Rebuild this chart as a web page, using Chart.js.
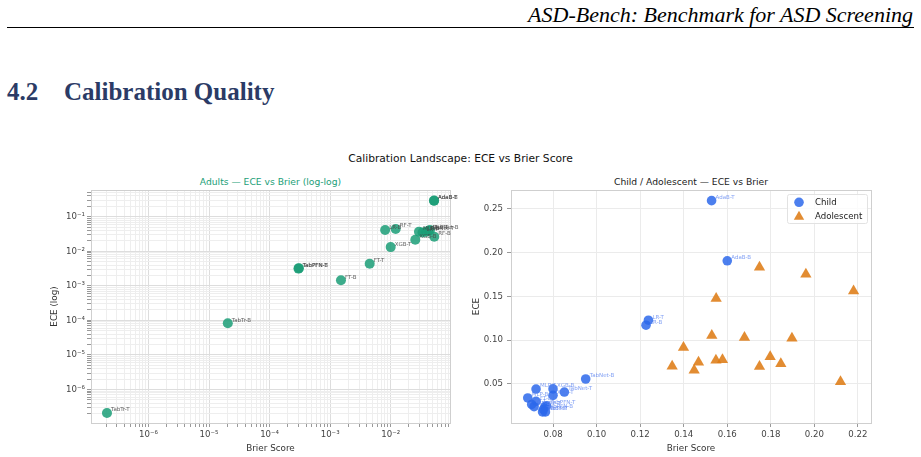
<!DOCTYPE html>
<html>
<head>
<meta charset="utf-8">
<script src="https://cdn.jsdelivr.net/npm/chart.js@4.4.1/dist/chart.umd.min.js"></script>
<style>
  body { margin: 0; width: 921px; height: 457px; background: #fff; position: relative; overflow: hidden; font-family: "DejaVu Sans", sans-serif; }
  #hdr { position: absolute; right: 8px; top: 2px; font: italic 22px "Liberation Serif", serif; white-space: nowrap; }
  #rule { position: absolute; left: 7px; width: 907px; top: 27px; border-top: 1.5px solid #000; }
  #sec { position: absolute; left: 7px; top: 78px; font: bold 25px "Liberation Serif", serif; color: #2b3b66; white-space: nowrap; }
  #sec span { display: inline-block; width: 57px; }
  #sup { position: absolute; left: 0; width: 921px; top: 152px; text-align: center; font-size: 10.7px; color: #111; }
  .sub { position: absolute; top: 176px; font-size: 9.2px; text-align: center; white-space: nowrap; }
  .wrap { position: absolute; top: 170px; height: 287px; }
</style>
</head>
<body>
<div id="hdr">ASD-Bench: Benchmark for ASD Screening</div>
<div id="rule"></div>
<div id="sec"><span>4.2</span>Calibration Quality</div>
<div id="sup">Calibration Landscape: ECE vs Brier Score</div>
<div class="sub" style="left:91px;width:359px;color:#1b9e77">Adults — ECE vs Brier (log-log)</div>
<div class="sub" style="left:511px;width:360px;color:#222">Child / Adolescent — ECE vs Brier</div>
<div class="wrap" style="left:0;width:460px"><canvas id="adults" width="460" height="287"></canvas></div>
<div class="wrap" style="left:460px;width:461px"><canvas id="kids" width="461" height="287"></canvas></div>
<script>
// Adults (log-log)
const adultNames = ["TabTr-T", "TabTr-B", "TabPFN-B", "TabPFN-T", "FT-B", "FT-T", "XGB-T", "LR-B", "RF-T",
  "XGB-B", "MLP-B", "LR-T", "TabNet-T", "MLP-T", "TabNet-B", "RF-B", "AdaB-B", "AdaB-T"];
const adultBrier = [2.06e-7, 2.04e-5, 3.0e-4, 3.05e-4, 1.51e-3, 4.5e-3, 0.0100, 0.0081, 0.0121,
  0.0255, 0.0293, 0.0335, 0.0383, 0.0420, 0.0446, 0.0525, 0.0519, 0.0522];
const adultEce = [2.09e-7, 8.3e-5, 3.15e-3, 3.25e-3, 1.46e-3, 4.35e-3, 0.0132, 0.0411, 0.0440,
  0.0216, 0.0367, 0.0350, 0.0367, 0.0395, 0.0410, 0.0263, 0.291, 0.293];

// Child
const childNames = ["AdaB-T", "AdaB-B", "LR-T", "LR-B", "TabNet-B", "TabNet-T", "MLP-T", "XGB-B", "XGB-T",
  "MLP-B", "FT-B", "FT-T", "RF-B", "RF-T", "TabPFN-T", "TabPFN-B", "TabTr-B", "TabTr-T"];
const childBrier = [0.1528, 0.1600, 0.1238, 0.1227, 0.0950, 0.0852, 0.0722, 0.0800, 0.0800,
  0.0684, 0.0722, 0.0702, 0.0713, 0.0763, 0.0770, 0.0756, 0.0752, 0.0765];
const childEce = [0.2595, 0.1908, 0.1229, 0.1172, 0.0557, 0.0408, 0.0442, 0.0444, 0.0370,
  0.0340, 0.0302, 0.0266, 0.0240, 0.0240, 0.0250, 0.0210, 0.0180, 0.0180];

// Adolescent
const adolBrier = [0.1347, 0.1399, 0.1448, 0.1468, 0.1529, 0.1549, 0.1548, 0.1578, 0.1679,
  0.1748, 0.1748, 0.1797, 0.1846, 0.1897, 0.1961, 0.2120, 0.2180];
const adolEce = [0.0703, 0.0916, 0.0657, 0.0749, 0.1054, 0.1478, 0.0771, 0.0778, 0.1031,
  0.1833, 0.0700, 0.0810, 0.0730, 0.1023, 0.1753, 0.0526, 0.1564];

// tick labels
const logExps = [-7, -6, -5, -4, -3, -2, -1];
const kidXTicks = [0.08, 0.10, 0.12, 0.14, 0.16, 0.18, 0.20, 0.22];
const kidYTicks = [0.05, 0.10, 0.15, 0.20, 0.25];

const pts = (xs, ys) => xs.map((x, i) => ({ x: x, y: ys[i] }));
const SUP = { "-": "⁻", "0": "⁰", "1": "¹", "2": "²", "3": "³", "4": "⁴", "5": "⁵", "6": "⁶", "7": "⁷", "8": "⁸", "9": "⁹" };
const isDecade = v => Math.abs(Math.log10(v) - Math.round(Math.log10(v))) < 1e-6;
const decadeLabel = v => isDecade(v) ? "10" + String(Math.round(Math.log10(v))).split("").map(c => SUP[c]).join("") : "";

function logTicks(scale) {
  const t = [];
  logExps.forEach(e => { for (let k = 1; k <= 9; k++) t.push({ value: k * Math.pow(10, e) }); });
  scale.ticks = t.filter(o => o.value >= scale.min && o.value <= scale.max);
}

const tickFont = { family: "DejaVu Sans", size: 8.6 };
const titleFont = { family: "DejaVu Sans", size: 8.8 };

// frame round the plot area
const frame = {
  id: "frame",
  beforeDatasetsDraw(chart) {
    const a = chart.chartArea, c = chart.ctx;
    c.save();
    c.strokeStyle = "#cfcfcf";
    c.lineWidth = 1;
    c.strokeRect(a.left + 0.5, a.top + 0.5, a.right - a.left, a.bottom - a.top);
    c.restore();
  }
};

// text next to each point
const pointNames = {
  id: "pointNames",
  afterDatasetsDraw(chart) {
    const c = chart.ctx;
    chart.data.datasets.forEach((ds, i) => {
      if (!ds.names) return;
      c.save();
      c.font = "5.5px DejaVu Sans";
      c.fillStyle = ds.nameColor;
      c.textBaseline = "middle";
      chart.getDatasetMeta(i).data.forEach((el, j) => c.fillText(ds.names[j], el.x + 4, el.y - 3));
      c.restore();
    });
  }
};

// legend box inside the right plot
const kidLegend = {
  id: "kidLegend",
  afterDraw(chart) {
    const a = chart.chartArea, c = chart.ctx;
    const x0 = a.right - 84, y0 = a.top + 4, w = 80, h = 29;
    c.save();
    c.fillStyle = "rgba(255,255,255,0.8)";
    c.strokeStyle = "#e2e2e2";
    c.lineWidth = 1;
    c.beginPath();
    c.roundRect(x0 + 0.5, y0 + 0.5, w, h, 2);
    c.fill();
    c.stroke();
    chart.data.datasets.forEach((ds, i) => {
      const cx = x0 + 12, cy = y0 + 8.3 + i * 14.4;
      c.fillStyle = ds.backgroundColor;
      c.beginPath();
      if (ds.pointStyle === "triangle") {
        const r = 6;
        c.moveTo(cx, cy - r);
        c.lineTo(cx + r * 0.866, cy + r * 0.5);
        c.lineTo(cx - r * 0.866, cy + r * 0.5);
        c.closePath();
      } else {
        c.arc(cx, cy, 4.8, 0, Math.PI * 2);
      }
      c.fill();
      c.fillStyle = "#222";
      c.font = "8.6px DejaVu Sans";
      c.textBaseline = "middle";
      c.fillText(ds.label, x0 + 28, cy);
    });
    c.restore();
  }
};

new Chart(document.getElementById("adults"), {
  type: "scatter",
  data: {
    datasets: [{
      label: "Adults",
      data: pts(adultBrier, adultEce),
      names: adultNames,
      nameColor: "rgba(70,70,70,0.85)",
      backgroundColor: "rgba(27,158,119,0.85)",
      borderWidth: 0,
      pointRadius: 5,
      pointHoverRadius: 5
    }]
  },
  options: {
    responsive: false,
    animation: false,
    layout: { padding: { top: 20, right: 10, left: 0, bottom: 0 } },
    plugins: { legend: { display: false }, tooltip: { enabled: false } },
    scales: {
      x: {
        type: "logarithmic",
        min: Math.pow(10, -6.95), max: Math.pow(10, -1.02),
        afterBuildTicks: logTicks,
        afterFit: s => { s.height = 34; },
        border: { display: false },
        grid: { color: ctx => isDecade(ctx.tick.value) ? "#dddddd" : "#eeeeee", tickLength: 4, tickColor: "#999" },
        ticks: { callback: decadeLabel, autoSkip: false, maxRotation: 0, padding: 3, color: "#444", font: tickFont },
        title: { display: true, text: "Brier Score", color: "#333", font: titleFont, padding: { top: 0, bottom: 3 } }
      },
      y: {
        type: "logarithmic",
        min: Math.pow(10, -6.97), max: Math.pow(10, -0.226),
        afterBuildTicks: logTicks,
        afterFit: s => { s.width = 91; },
        border: { display: false },
        grid: { color: ctx => isDecade(ctx.tick.value) ? "#dddddd" : "#eeeeee", tickLength: 4, tickColor: "#999" },
        ticks: { callback: decadeLabel, autoSkip: false, padding: 2, color: "#444", font: tickFont },
        title: { display: true, text: "ECE (log)", color: "#333", font: titleFont, padding: { top: 49, bottom: 0 } }
      }
    }
  },
  plugins: [frame, pointNames]
});

new Chart(document.getElementById("kids"), {
  type: "scatter",
  data: {
    datasets: [{
      label: "Child",
      data: pts(childBrier, childEce),
      names: childNames,
      nameColor: "rgba(90,130,240,0.75)",
      backgroundColor: "rgba(45,104,235,0.85)",
      borderWidth: 0,
      pointStyle: "circle",
      pointRadius: 4.8,
      pointHoverRadius: 4.8
    }, {
      label: "Adolescent",
      data: pts(adolBrier, adolEce),
      backgroundColor: "rgba(222,124,22,0.88)",
      borderWidth: 0,
      pointStyle: "triangle",
      pointRadius: 6.5,
      pointHoverRadius: 6.5
    }]
  },
  options: {
    responsive: false,
    animation: false,
    layout: { padding: { top: 20, right: 50, left: 0, bottom: 0 } },
    plugins: { legend: { display: false }, tooltip: { enabled: false } },
    scales: {
      x: {
        type: "linear",
        min: 0.0607, max: 0.226,
        afterBuildTicks: s => { s.ticks = kidXTicks.map(v => ({ value: v })); },
        afterFit: s => { s.height = 34; },
        border: { display: false },
        grid: { color: "#ebebeb", tickLength: 4, tickColor: "#999" },
        ticks: { callback: v => v.toFixed(2), autoSkip: false, maxRotation: 0, padding: 3, color: "#444", font: tickFont },
        title: { display: true, text: "Brier Score", color: "#333", font: titleFont, padding: { top: 0, bottom: 3 } }
      },
      y: {
        type: "linear",
        min: 0.0054, max: 0.2717,
        afterBuildTicks: s => { s.ticks = kidYTicks.map(v => ({ value: v })); },
        afterFit: s => { s.width = 51; },
        border: { display: false },
        grid: { color: "#ebebeb", tickLength: 4, tickColor: "#999" },
        ticks: { callback: v => v.toFixed(2), autoSkip: false, padding: 4, color: "#444", font: tickFont },
        title: { display: true, text: "ECE", color: "#333", font: titleFont, padding: { top: 11, bottom: 0 } }
      }
    }
  },
  plugins: [frame, pointNames, kidLegend]
});
</script>
</body>
</html>
